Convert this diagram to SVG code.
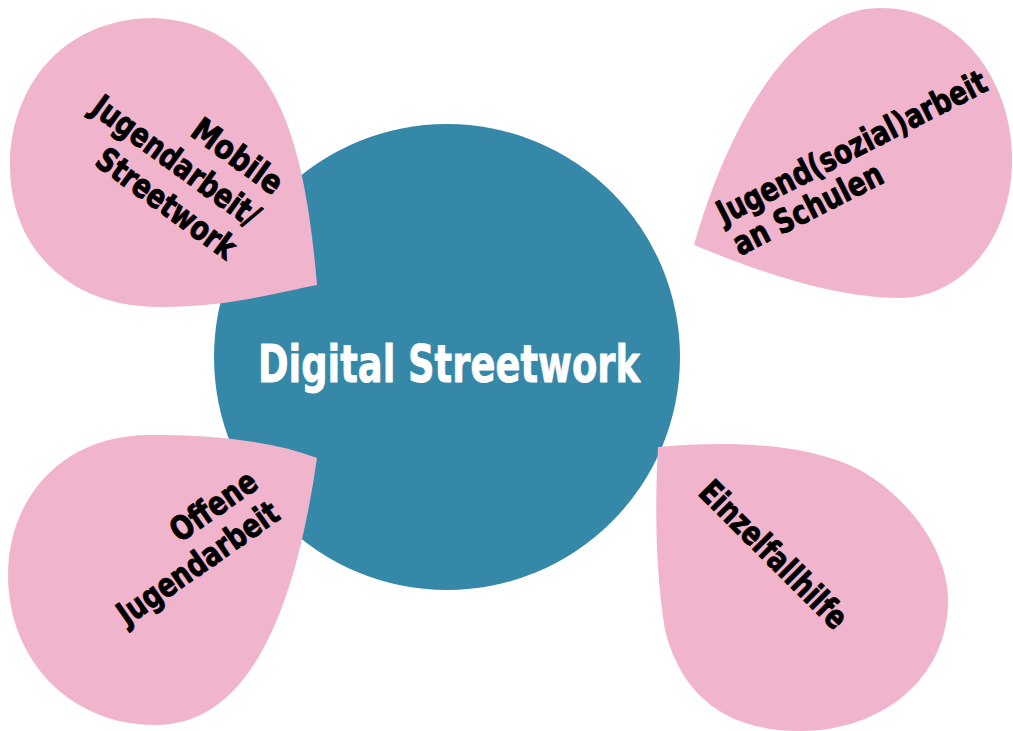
<svg xmlns="http://www.w3.org/2000/svg" width="1013" height="731" viewBox="0 0 1013 731">
<style>
.drop{fill:#F0B4CC;}
.hub{fill:#3588A7;}
.lbl{font-family:"Liberation Sans Narrow","DejaVu Sans Condensed","Liberation Sans",sans-serif;font-weight:bold;font-size:33px;fill:#000;stroke:#000;stroke-width:0.9px;stroke-linejoin:round;}
.title{font-family:"Liberation Sans Narrow","DejaVu Sans Condensed","Liberation Sans",sans-serif;font-weight:bold;font-size:52px;fill:#fff;stroke:#fff;stroke-width:0.8px;stroke-linejoin:round;}
</style>
<rect width="1013" height="731" fill="#fff"/>
<g id="hub">
<circle class="hub" cx="447" cy="357" r="233"/>
<text class="title" x="449" y="382" text-anchor="middle" textLength="382" lengthAdjust="spacingAndGlyphs">Digital Streetwork</text>
</g>
<g id="mobile">
<path class="drop" d="M317,285 C305,140 275,25 155,18 C60,18 10,90 10,165 C10,250 70,307 160,307 C230,307 280,292 317,285 Z"/>
<g transform="translate(273,196) rotate(36)">
<text class="lbl" x="0" y="0" text-anchor="end" textLength="104" lengthAdjust="spacingAndGlyphs">Mobile</text>
<text class="lbl" x="0" y="40" text-anchor="end" textLength="198" lengthAdjust="spacingAndGlyphs">Jugendarbeit/</text>
<text class="lbl" x="0" y="80" text-anchor="end" textLength="164" lengthAdjust="spacingAndGlyphs">Streetwork</text>
</g>
</g>
<g id="schule">
<path class="drop" d="M694,245 C725,135 790,8 880,8 C960,8 1012,80 1012,160 C1012,240 960,298 900,298 C830,298 750,268 694,245 Z"/>
<g transform="translate(724,225) rotate(-27)">
<text class="lbl" x="0" y="0" textLength="298" lengthAdjust="spacingAndGlyphs">Jugend(sozial)arbeit</text>
<text class="lbl" x="0" y="35" textLength="164" lengthAdjust="spacingAndGlyphs">an Schulen</text>
</g>
</g>
<g id="offene">
<path class="drop" d="M317,458 C270,440 210,435 150,435 C60,435 8,500 8,575 C8,660 70,725 155,725 C250,725 295,610 317,458 Z"/>
<g transform="translate(260,487) rotate(-35)">
<text class="lbl" x="0" y="0" text-anchor="end" textLength="98" lengthAdjust="spacingAndGlyphs">Offene</text>
<text class="lbl" x="0" y="38" text-anchor="end" textLength="189" lengthAdjust="spacingAndGlyphs">Jugendarbeit</text>
</g>
</g>
<g id="einzelfall">
<path class="drop" d="M658,447 C720,442 800,440 860,470 C920,505 948,560 948,600 C948,680 880,731 800,731 C720,731 680,690 665,630 C655,570 655,500 658,447 Z"/>
<g transform="translate(697,494) rotate(45)">
<text class="lbl" x="0" y="0" textLength="194" lengthAdjust="spacingAndGlyphs">Einzelfallhilfe</text>
</g>
</g>
</svg>
